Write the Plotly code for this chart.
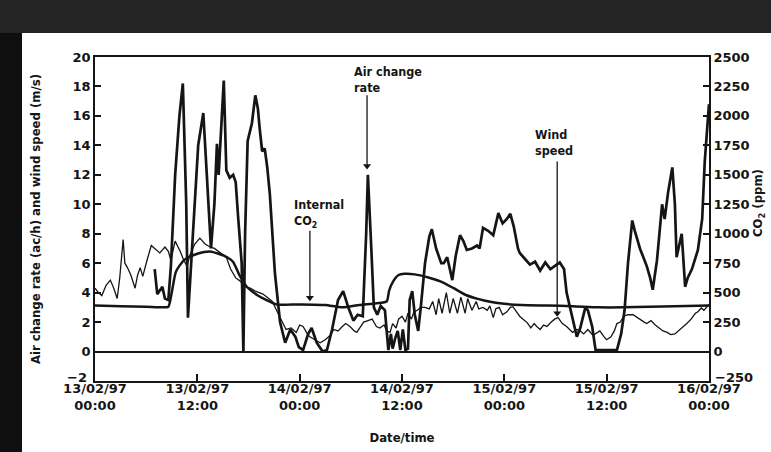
import pandas as pd
import plotly.graph_objects as go

# ---------------- data (hours after 13/02/97 00:00) ----------------
ach_hours = [7.0, 7.3, 7.9, 8.2, 8.6, 8.9, 9.4, 9.9, 10.3, 10.7, 10.9, 11.5, 12.1, 12.7, 13.1, 13.6,
             14.0, 14.3, 14.5, 14.8, 15.1, 15.4, 15.8, 16.2, 16.5, 16.8, 17.2, 17.4, 17.6, 17.9, 18.4,
             18.8, 19.1, 19.3, 19.6, 19.9, 20.2, 20.5, 21.1, 21.7, 22.3, 22.9, 23.5, 23.9, 24.4, 25.0,
             25.4, 26.0, 26.7, 27.2, 27.8, 28.5, 29.1, 29.7, 30.3, 30.8, 31.4, 31.8, 32.0, 32.4, 32.7,
             33.1, 33.5, 34.0, 34.4, 34.7, 34.9, 35.2, 35.5, 35.8, 36.1, 36.4, 36.7, 36.9, 37.2, 37.5,
             37.9, 38.2, 38.7, 39.2, 39.5, 40.0, 40.6, 40.9, 41.3, 41.9, 42.3, 42.8, 43.2, 43.6, 44.2,
             44.8, 45.1, 45.5, 46.1, 46.7, 47.3, 47.8, 48.3, 48.7, 49.1, 49.6, 49.8, 50.4, 51.0, 51.6,
             52.2, 52.8, 53.4, 53.9, 54.5, 55.0, 55.3, 55.7, 56.2, 56.5, 56.9, 57.5, 57.8, 58.3, 58.7,
             59.8, 61.2, 61.7, 62.1, 62.5, 63.0, 63.3, 63.6, 63.9, 64.3, 64.7, 65.1, 65.4, 65.9, 66.3,
             66.5, 66.8, 67.2, 67.7, 68.0, 68.2, 68.6, 68.8, 69.2, 69.5, 70.0, 70.7, 71.2, 71.5, 72.0]
ach_values = [5.6, 3.9, 4.4, 3.6, 3.5, 5.8, 12.0, 16.0, 18.2, 10.0, 2.3, 8.0, 14.0, 16.2, 12.3, 7.0,
              10.0, 14.1, 12.0, 15.0, 18.4, 12.3, 11.8, 12.0, 11.5, 9.0, 6.0, 0.0, 8.0, 14.3, 15.5,
              17.4, 16.5, 15.2, 13.6, 13.8, 12.5, 10.7, 5.3, 2.0, 0.6, 1.5, 1.0, 0.3, 0.1, 1.2,
              1.6, 0.6, 0.0, 0.1, 1.5, 3.5, 4.1, 3.0, 2.1, 2.5, 2.4, 8.0, 12.0, 7.0, 3.0,
              2.5, 3.1, 2.8, 0.1, 1.2, 0.2, 0.9, 1.4, 0.1, 1.5, 0.1, 0.2, 3.5, 4.1, 2.5,
              1.4, 3.0, 6.0, 7.8, 8.3, 7.0, 6.0, 6.0, 6.4, 4.85, 6.5, 7.9, 7.5, 6.9, 7.0,
              7.2, 7.0, 8.4, 8.2, 7.9, 9.4, 8.7, 9.0, 9.35, 8.5, 7.0, 6.7, 6.3, 5.9, 6.1,
              5.5, 6.05, 5.6, 5.8, 6.05, 5.6, 4.0, 3.0, 1.8, 1.0, 1.6, 3.0, 2.8, 1.7, 0.1,
              0.1, 0.1, 1.2, 2.8, 6.0, 8.9, 8.2, 7.5, 7.0, 6.4, 5.8, 5.0, 4.2, 6.2, 9.0,
              10.0, 9.0, 10.8, 12.5, 10.0, 6.4, 7.5, 8.0, 4.4, 5.0, 5.6, 6.9, 9.0, 12.9, 16.8]

wind_hours = [0.0, 0.4, 0.8, 1.3, 1.8, 2.2, 2.6, 2.9, 3.3, 3.5, 3.8, 4.2, 4.7, 5.0, 5.3, 5.6, 6.1,
              6.6, 7.0, 7.6, 8.2, 8.6, 8.9, 9.4, 10.0, 10.4, 10.8, 11.1, 11.7, 12.3, 12.9, 13.5, 14.0,
              14.7, 15.4, 15.9, 16.5, 17.0, 17.6, 18.2, 18.8, 19.7, 20.3, 20.8, 21.2, 21.8, 22.4, 23.0,
              23.6, 24.0, 24.4, 24.9, 25.2, 25.8, 26.4, 27.0, 27.6, 28.0, 28.5, 29.0, 29.4, 29.9, 30.4,
              30.7, 31.2, 31.5, 32.0, 32.5, 33.0, 33.4, 33.9, 34.2, 34.6, 34.9, 35.3, 35.6, 36.0, 36.4,
              36.7, 37.1, 37.4, 37.8, 38.2, 38.7, 39.2, 39.6, 40.0, 40.3, 40.7, 41.2, 41.6, 42.0, 42.5,
              42.9, 43.4, 43.7, 44.2, 44.7, 45.0, 45.5, 46.0, 46.3, 46.7, 47.0, 47.4, 47.8, 48.3, 48.7,
              49.0, 49.5, 49.8, 50.2, 50.7, 51.1, 51.5, 51.8, 52.2, 52.6, 53.0, 53.5, 53.9, 54.3, 54.8,
              55.3, 55.7, 56.0, 56.5, 56.9, 57.3, 57.8, 58.4, 58.9, 59.2, 59.7, 60.0, 60.5, 60.9, 61.2,
              61.6, 62.0, 62.5, 63.1, 63.6, 63.9, 64.4, 64.7, 65.2, 65.7, 66.1, 66.6, 67.1, 67.5, 68.0,
              68.6, 69.1, 69.4, 69.9, 70.4, 70.7, 71.1, 71.4, 71.8, 72.0]
wind_values = [4.3, 4.0, 3.8, 4.5, 4.85, 4.3, 3.6, 5.0, 7.6, 6.0, 5.7, 5.2, 4.3, 5.2, 5.7, 5.1, 6.2,
               7.2, 7.0, 6.7, 7.1, 6.8, 6.2, 7.5, 6.8, 6.2, 5.8, 6.5, 7.3, 7.7, 7.3, 7.1, 7.0,
               6.7, 6.4, 5.6, 5.0, 4.8, 4.4, 4.3, 4.1, 3.9, 3.6, 3.4, 2.9, 2.2, 1.5, 1.6,
               1.3, 1.8, 1.7, 1.2, 1.0, 0.8, 0.6, 0.8, 1.1, 1.5, 1.4, 1.7, 1.9, 1.7, 1.4,
               1.3, 1.7, 2.0, 2.1, 2.2, 1.7, 1.6, 1.8, 1.4, 1.3, 1.9, 1.6, 2.2, 2.4, 2.0,
               2.6, 2.2, 2.7, 2.8, 3.0, 3.0, 2.9, 3.4, 2.5, 3.6, 2.6, 4.0, 2.6, 3.6, 2.6,
               3.7, 2.6, 3.6, 2.8, 3.4, 2.9, 3.0, 2.8, 3.1, 2.3, 2.9, 3.0, 2.5, 2.7, 3.0,
               3.05, 2.6, 2.4, 2.2, 1.95, 1.6, 1.9, 1.7, 1.5, 1.8, 1.7, 2.0, 2.2, 2.3, 1.9,
               1.7, 1.5, 1.3, 1.5, 1.4, 1.2, 1.5, 1.1, 1.3, 1.4, 1.0, 0.8, 1.0, 1.4, 1.9,
               2.0, 2.4, 2.5, 2.5, 2.3, 2.15, 2.0, 1.9, 2.1, 1.8, 1.6, 1.4, 1.3, 1.15, 1.2,
               1.5, 1.7, 1.9, 2.2, 2.6, 2.7, 2.96, 2.8, 3.1, 3.2]

co2_hours = [0.0, 3.0, 6.0, 8.0, 8.6, 9.0, 9.5, 10.5, 12.0, 13.5, 14.5, 15.5, 16.2, 17.0, 17.8,
             19.0, 20.0, 21.3, 24.0, 27.0, 29.0, 31.0, 33.0, 34.2, 34.5, 35.0, 35.6, 36.3, 37.5,
             39.0, 40.5, 42.0, 43.5, 45.0, 46.5, 48.0, 50.0, 53.0, 56.0, 59.0, 62.0, 65.0, 68.0, 72.0]
co2_values = [390, 385, 380, 375, 380, 500, 680, 780, 830, 850, 830, 800, 760, 640, 550,
              480, 440, 400, 400, 395, 375, 395, 410, 425, 520, 600, 650, 660, 655,
              630, 595, 540, 480, 445, 420, 405, 395, 390, 385, 375, 375, 380, 385, 390]

tick_hours = [0, 12, 24, 36, 48, 60, 72]
tick_labels = ["13/02/97<br>00:00", "13/02/97<br>12:00", "14/02/97<br>00:00", "14/02/97<br>12:00",
               "15/02/97<br>00:00", "15/02/97<br>12:00", "16/02/97<br>00:00"]
left_ticks = list(range(-2, 21, 2))
right_ticks = list(range(-250, 2501, 250))

# callout labels: (text, hours, left-axis value) and arrows: (hours, tip value, tail value)
label_texts = ["Internal<br>CO<sub>2</sub>", "Air change<br>rate", "Wind<br>speed"]
label_hours = [23.1, 30.1, 51.4]
label_values = [9.4, 18.5, 14.2]
arrow_hours = [25.2, 31.9, 54.2]
arrow_tips = [3.35, 12.3, 2.3]
arrow_tails = [8.2, 17.4, 12.9]

start = pd.Timestamp("1997-02-13 00:00")


def to_time(hours):
    return [start + pd.Timedelta(hours=h) for h in hours]


FONT = "DejaVu Sans"
INK = "#151515"
W, H = 771, 452
ML, MR, MT, MB = 95, 62, 57, 71
PW, PH = W - ML - MR, H - MT - MB

fig = go.Figure()
fig.add_trace(go.Scatter(x=to_time(wind_hours), y=wind_values, mode="lines",
                         line=dict(color=INK, width=1.3), name="Wind speed"))
fig.add_trace(go.Scatter(x=to_time(co2_hours), y=co2_values, mode="lines", yaxis="y2",
                         line=dict(color=INK, width=2.5, shape="spline", smoothing=0.6), name="Internal CO2"))
fig.add_trace(go.Scatter(x=to_time(ach_hours), y=ach_values, mode="lines",
                         line=dict(color=INK, width=2.7), name="Air change rate"))

# arrows (shaft + head)
for h, tip, tail in zip(arrow_hours, arrow_tips, arrow_tails):
    t = start + pd.Timedelta(hours=h)
    fig.add_shape(type="line", xref="x", yref="y", x0=t, x1=t, y0=tail, y1=tip + 0.25,
                  line=dict(color=INK, width=1.3))
fig.add_trace(go.Scatter(x=to_time(arrow_hours), y=[v + 0.3 for v in arrow_tips], mode="markers",
                         marker=dict(symbol="triangle-down", size=7, color=INK), hoverinfo="skip"))

tfont = dict(family=FONT, size=13, color=INK, weight="bold")
axfont = dict(family="DejaVu Sans Condensed", size=13, color=INK, weight="bold")


def fmt(v):
    return "" if v < 0 else str(v)


fig.update_layout(
    template="none",
    width=W, height=H,
    margin=dict(l=ML, r=MR, t=MT, b=MB, pad=0, autoexpand=False),
    paper_bgcolor="#242424", plot_bgcolor="white",
    showlegend=False,
    font=dict(family=FONT, color=INK),
    xaxis=dict(type="date", range=[start, start + pd.Timedelta(hours=72)], automargin=False,
               tickvals=to_time(tick_hours), ticktext=tick_labels,
               ticks="inside", ticklen=7, tickwidth=1.5, tickcolor=INK,
               showline=True, linecolor=INK, linewidth=1.6, mirror=True,
               showgrid=False, zeroline=False, tickfont=tfont, ticklabelstandoff=-5,
               title=dict(text="Date/time", font=axfont, standoff=21)),
    yaxis=dict(range=[-2, 20], tickvals=left_ticks, ticktext=[fmt(v) for v in left_ticks],
               automargin=False,
               ticks="inside", ticklen=6, tickwidth=1.5, tickcolor=INK,
               showline=True, linecolor=INK, linewidth=1.6, mirror=True,
               showgrid=False, zeroline=True, zerolinecolor=INK, zerolinewidth=1.6,
               tickfont=tfont,
               title=dict(text="Air change rate (ac/h) and wind speed (m/s)", font=axfont, standoff=29)),
    yaxis2=dict(range=[-250, 2500], tickvals=right_ticks, ticktext=[fmt(v) for v in right_ticks],
                overlaying="y", side="right", automargin=False,
                ticks="inside", ticklen=6, tickwidth=1.5, tickcolor=INK,
                showline=True, linecolor=INK, linewidth=1.6,
                showgrid=False, zeroline=False, tickfont=tfont),
)

# white page area (the scan's dark border stays visible at top and left)
fig.add_shape(type="rect", xref="paper", yref="paper", x0=(22 - ML) / PW, x1=(W - ML) / PW,
              y0=-MB / PH, y1=(PH + MT - 33) / PH, fillcolor="white", line=dict(width=0),
              layer="below")
fig.add_shape(type="rect", xref="paper", yref="paper", x0=-ML / PW, x1=(22 - ML) / PW,
              y0=-MB / PH, y1=(PH + MT - 33) / PH, fillcolor="#0f0f0f", line=dict(width=0),
              layer="below")

# bottom-most tick labels sit slightly above the axis corner, as in the reference
fig.add_annotation(xref="paper", yref="paper", x=(89 - ML) / PW, y=(H - MB - 377) / PH,
                   text="\u22122", showarrow=False, xanchor="right", yanchor="middle", font=tfont)
fig.add_annotation(xref="paper", yref="paper", x=(713 - ML) / PW, y=(H - MB - 377) / PH,
                   text="\u2212250", showarrow=False, xanchor="left", yanchor="middle", font=tfont)

# right axis title placed like the reference
fig.add_annotation(xref="paper", yref="paper", x=(758 - ML) / PW, y=(H - MB - 203) / PH,
                   text="CO<sub>2</sub> (ppm)", textangle=-90, showarrow=False,
                   xanchor="center", yanchor="middle", font=axfont)

lab = dict(family="DejaVu Sans Condensed", size=12.5, color=INK, weight="bold")
for txt, h, v in zip(label_texts, label_hours, label_values):
    fig.add_annotation(x=start + pd.Timedelta(hours=h), y=v, text=txt, showarrow=False,
                       xanchor="left", yanchor="middle", align="left", font=lab)

fig.write_html("out.html", config={"displayModeBar": False},
               post_script=("document.documentElement.style.overflow='hidden';"
                            "document.body.style.margin='0';document.body.style.overflow='hidden';"))
